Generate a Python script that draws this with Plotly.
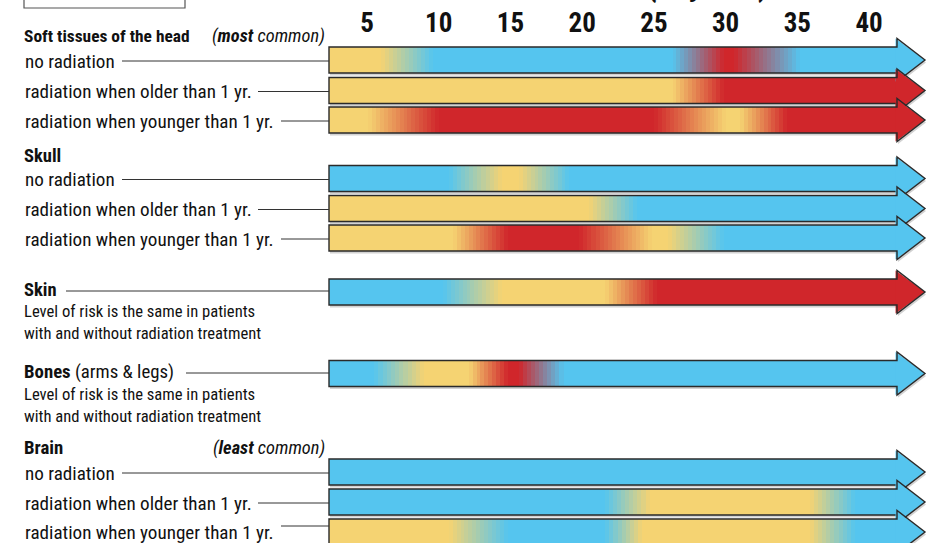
import plotly.graph_objects as go

# ---------------- data ----------------
TICK_AGES = [5, 10, 15, 20, 25, 30, 35, 40]
TICK_LABELS = ["5", "10", "15", "20", "25", "30", "35", "40"]

# risk level stops along age (years): (age, level)  B = low, Y = medium, R = high
SOFT_NO_RAD = [(6.0, "Y"), (9.6, "B"), (26.3, "B"), (29.9, "R"), (30.6, "R"), (35.2, "B")]
SOFT_OLDER = [(26.3, "Y"), (29.9, "R")]
SOFT_YOUNGER = [(5.1, "Y"), (10.0, "R"), (25.0, "R"), (30.0, "Y"), (31.0, "Y"), (34.3, "R")]
SKULL_NO_RAD = [(10.7, "B"), (14.4, "Y"), (15.6, "Y"), (19.1, "B")]
SKULL_OLDER = [(20.5, "Y"), (23.8, "B")]
SKULL_YOUNGER = [(11.0, "Y"), (14.8, "R"), (19.8, "R"), (24.9, "Y"), (26.0, "Y"), (29.9, "B")]
SKIN = [(10.3, "B"), (14.4, "Y"), (21.6, "Y"), (25.2, "R")]
BONES = [(5.5, "B"), (9.0, "Y"), (12.1, "Y"), (14.8, "R"), (15.6, "R"), (18.7, "B")]
BRAIN_NO_RAD = [(10.0, "B")]
BRAIN_OLDER = [(21.6, "B"), (24.7, "Y"), (35.9, "Y"), (39.0, "B")]
BRAIN_YOUNGER = [(10.7, "Y"), (14.8, "B"), (21.6, "B"), (24.2, "Y"), (35.9, "Y"), (39.0, "B")]

ROW_LABELS = [
    "no radiation", "radiation when older than 1 yr.", "radiation when younger than 1 yr.",
    "no radiation", "radiation when older than 1 yr.", "radiation when younger than 1 yr.",
    "", "",
    "no radiation", "radiation when older than 1 yr.", "radiation when younger than 1 yr.",
]
ROW_STOPS = [SOFT_NO_RAD, SOFT_OLDER, SOFT_YOUNGER,
             SKULL_NO_RAD, SKULL_OLDER, SKULL_YOUNGER,
             SKIN, BONES,
             BRAIN_NO_RAD, BRAIN_OLDER, BRAIN_YOUNGER]

# ---------------- style / layout ----------------
W, H = 930, 543
PX_PER_YEAR = 14.343
X_ZERO_PX = 295.3
X_RANGE = [-X_ZERO_PX / PX_PER_YEAR, (W - X_ZERO_PX) / PX_PER_YEAR]
BAR_START = (329 - X_ZERO_PX) / PX_PER_YEAR
BAR_END = (897 - X_ZERO_PX) / PX_PER_YEAR
TIP = (925 - X_ZERO_PX) / PX_PER_YEAR
BAR_H = 26
HEAD_EXTRA = 8.5
ROW_Y = [60, 90.5, 120, 178.5, 208.5, 238, 292, 373.5, 472, 502, 532]

COLORS = {"B": (85, 197, 239), "Y": (245, 211, 114), "R": (208, 38, 43)}
OUTLINE = "#2a2a2a"
FONT = "Roboto Condensed, Liberation Sans Narrow, Arial Narrow, Roboto, sans-serif"
STRIPE = 0.28


def rgb(c):
    return "rgb(%d,%d,%d)" % tuple(int(round(v)) for v in c)


def mix(a, b, t):
    return tuple(a[i] + (b[i] - a[i]) * t for i in range(3))


def stripes(stops):
    pts = [(BAR_START, stops[0][1])] + list(stops) + [(BAR_END, stops[-1][1])]
    starts, widths, cols = [], [], []
    for (a0, k0), (a1, k1) in zip(pts[:-1], pts[1:]):
        if a1 <= a0:
            continue
        if k0 == k1:
            starts.append(a0); widths.append(a1 - a0); cols.append(rgb(COLORS[k0]))
        else:
            n = max(1, int(round((a1 - a0) / STRIPE)))
            step = (a1 - a0) / n
            for j in range(n):
                t = (j + 0.5) / n
                starts.append(a0 + j * step)
                widths.append(step)
                cols.append(rgb(mix(COLORS[k0], COLORS[k1], t)))
    widths = [w + 0.06 for w in widths[:-1]] + [widths[-1]]
    return starts, widths, cols


fig = go.Figure()
shapes = []
dx1 = 1.0 / PX_PER_YEAR

for yc, stops in zip(ROW_Y, ROW_STOPS):
    s, w, c = stripes(stops)
    fig.add_trace(go.Bar(orientation="h", y=[yc] * len(s), x=w, base=s,
                         width=BAR_H, marker=dict(color=c, line=dict(width=0)),
                         hoverinfo="skip", showlegend=False))
    yt, yb = yc - BAR_H / 2, yc + BAR_H / 2
    shadow = ("M %f,%f L %f,%f L %f,%f L %f,%f L %f,%f L %f,%f L %f,%f Z" % (
        BAR_START + dx1, yb, BAR_END, yb, BAR_END + dx1, yb + HEAD_EXTRA + 2.5,
        TIP + dx1, yc + 2.5, BAR_END + dx1, yt - HEAD_EXTRA + 2.5, BAR_END + dx1, yb + 2.5,
        BAR_START + dx1, yb + 2.5))
    shapes.append(dict(type="path", xref="x", yref="y", path=shadow,
                       fillcolor="#d2d2d2", line=dict(width=0), layer="above"))
    head = "M %f,%f L %f,%f L %f,%f Z" % (
        BAR_END - 0.1, yt - HEAD_EXTRA, TIP, yc, BAR_END - 0.1, yb + HEAD_EXTRA)
    shapes.append(dict(type="path", xref="x", yref="y", path=head,
                       fillcolor=rgb(COLORS[stops[-1][1]]), line=dict(width=0), layer="above"))
    outline = ("M %f,%f L %f,%f L %f,%f L %f,%f L %f,%f L %f,%f L %f,%f Z" % (
        BAR_START, yt, BAR_END, yt, BAR_END, yt - HEAD_EXTRA,
        TIP, yc, BAR_END, yb + HEAD_EXTRA, BAR_END, yb, BAR_START, yb))
    shapes.append(dict(type="path", xref="x", yref="y", path=outline,
                       fillcolor="rgba(0,0,0,0)", line=dict(color=OUTLINE, width=1.4), layer="above"))

# ---------------- left text ----------------
annotations = []


def label(x_px, y_px, text, size=19.1, anchor="left"):
    annotations.append(dict(xref="paper", yref="y", x=x_px / W, y=y_px, text=text,
                            xanchor=anchor, yanchor="middle", showarrow=False,
                            font=dict(family=FONT, size=size, color="#111")))


def leader(x0_px, y_px, x1_px=329):
    shapes.append(dict(type="line", xref="paper", yref="y", x0=x0_px / W, x1=x1_px / W,
                       y0=y_px, y1=y_px, line=dict(color="#333", width=1)))


label(22, 36, "<b>Soft tissues of the head</b>", size=17.4)
label(327, 36, "<i>(<b>most</b> common)</i>", size=18.4, anchor="right")
label(22, 156, "<b>Skull</b>", size=18.5)
label(22, 290, "<b>Skin</b>", size=18.5)
label(22, 311, "Level of risk is the same in patients", size=16.6)
label(22, 333, "with and without radiation treatment", size=16.6)
label(22, 372, "<b>Bones</b> (arms &amp; legs)", size=18.8)
label(22, 394, "Level of risk is the same in patients", size=16.6)
label(22, 416, "with and without radiation treatment", size=16.6)
label(22, 448, "<b>Brain</b>", size=18.8)
label(327, 448, "<i>(<b>least</b> common)</i>", size=18.4, anchor="right")

leader(66, 291)
leader(186, 373)

LEADER_START = {"no radiation": 122, "radiation when older than 1 yr.": 258,
                "radiation when younger than 1 yr.": 281}
for i, (yc, lab) in enumerate(zip(ROW_Y, ROW_LABELS)):
    if not lab:
        continue
    ty = yc + 1
    ly = yc + 1
    if i == len(ROW_Y) - 1:
        ty = yc
        ly = 526
    label(23, ty, lab)
    leader(LEADER_START[lab], ly)

# top remnants: box and axis title (cropped at the top edge)
shapes.append(dict(type="rect", xref="paper", yref="paper", x0=24 / W, x1=185 / W,
                   y0=1 - 8 / H, y1=1.05, line=dict(color="#555", width=1.2),
                   fillcolor="rgba(0,0,0,0)"))
annotations.append(dict(xref="paper", yref="paper", x=770 / W, y=1 - 6 / H,
                        xanchor="right", yanchor="bottom", showarrow=False,
                        text="<b>AGE (in years)</b>", font=dict(family=FONT, size=32, color="#111")))

fig.update_layout(
    width=W, height=H, margin=dict(l=0, r=0, t=0, b=0),
    paper_bgcolor="white", plot_bgcolor="white", barmode="overlay", bargap=0,
    showlegend=False, shapes=shapes, annotations=annotations,
    xaxis=dict(range=X_RANGE, side="top", tickmode="array", tickvals=TICK_AGES,
               ticktext=TICK_LABELS, ticklabelposition="inside", ticks="",
               showgrid=False, zeroline=False, showline=False, ticklabelstandoff=10,
               tickfont=dict(family=FONT, size=27, color="#111", weight="bold"), fixedrange=True),
    yaxis=dict(range=[H, 0], visible=False, showgrid=False, zeroline=False, fixedrange=True),
)

fig.write_html("out.html", config={"displayModeBar": False},
               post_script="document.body.style.margin='0';document.body.style.overflow='hidden';")
